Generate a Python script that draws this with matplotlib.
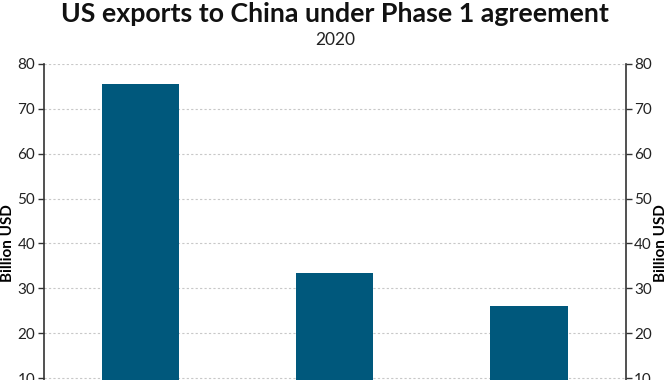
import matplotlib.pyplot as plt

# Phase 1 export categories, 2020 (billion USD)
categories = ['Manufactured goods', 'Agriculture', 'Energy']
exports = [75.5, 33.5, 26.1]
y_ticks = [0, 10, 20, 30, 40, 50, 60, 70, 80]

plt.rcParams['font.family'] = ['Lato', 'DejaVu Sans']

fig = plt.figure(figsize=(6.7, 3.8), dpi=100)
# the chart is cut off at the bottom, so the axes run past the figure edge
ax = fig.add_axes([0.065, -0.113, 0.869, 0.945])

ax.bar(range(len(categories)), exports, width=0.4, color='#00587c', zorder=2)
ax.set_xlim(-0.5, len(categories) - 0.5)
ax.set_ylim(0, 80)
ax.set_yticks(y_ticks)
ax.set_xticks([])

ax.grid(axis='y', linestyle=(0, (2, 2)), color='#c8c8c8', linewidth=0.8, zorder=0)
ax.spines['top'].set_visible(False)
ax.spines['right'].set_visible(False)
ax.spines['left'].set_color('#333333')
ax.spines['left'].set_linewidth(1.2)
ax.tick_params(axis='y', length=4, width=1, color='#333333', labelsize=11,
               labelcolor='#222222', pad=2)
ax.set_ylabel('Billion USD', fontsize=11, fontweight='bold')
ax.yaxis.set_label_coords(-0.049, 0.5)

# mirrored axis on the right
ax2 = ax.twinx()
ax2.set_ylim(ax.get_ylim())
ax2.set_yticks(y_ticks)
for s in ['top', 'left', 'bottom']:
    ax2.spines[s].set_visible(False)
ax2.spines['right'].set_color('#333333')
ax2.spines['right'].set_linewidth(1.2)
ax2.tick_params(axis='y', length=4, width=1, color='#333333', labelsize=11,
                labelcolor='#222222', pad=2)
ax2.set_ylabel('Billion USD', fontsize=11, fontweight='bold')
ax2.yaxis.set_label_coords(1.049, 0.5)

fig.text(0.5, 0.962, 'US exports to China under Phase 1 agreement',
         ha='center', va='center', fontsize=19.3, fontweight='bold', color='#111111')
fig.text(0.5, 0.895, '2020', ha='center', va='center', fontsize=12.5, color='#222222')

fig.savefig('out.png', dpi=100)
